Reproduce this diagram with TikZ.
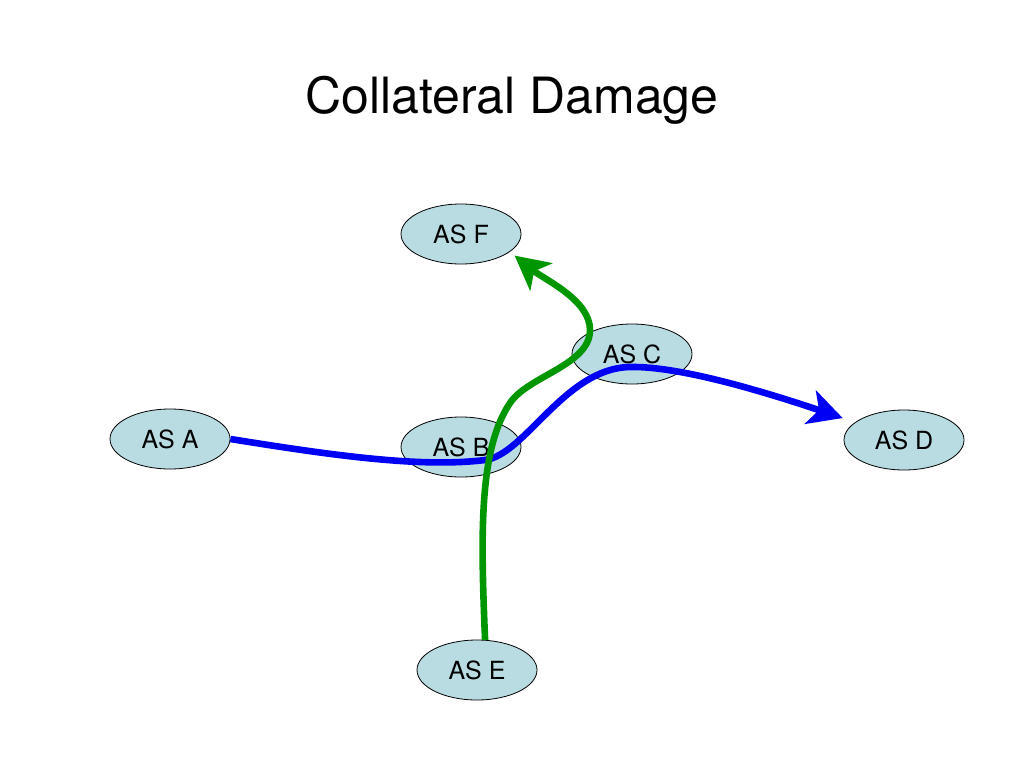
\documentclass[tikz,border=0pt]{standalone}
\usepackage{fontspec}
\setmainfont{TeX Gyre Heros}
\usetikzlibrary{shapes.geometric,arrows.meta}
\definecolor{asfill}{RGB}{185,220,226}
\definecolor{routeblue}{RGB}{0,0,245}
\definecolor{routegreen}{RGB}{0,150,0}
\begin{document}
\begin{tikzpicture}[x=1pt,y=-1pt,
        asnode/.style={ellipse,draw=black,line width=0.8pt,fill=asfill,minimum width=120pt,minimum height=60pt,inner sep=0pt,font=\fontsize{25}{30}\selectfont},
        route/.style={line width=6.6pt,-{Stealth[length=34pt,width=35pt,inset=9pt]}}]
        \useasboundingbox (0,0) rectangle (1024,768);
        \node[anchor=base,font=\fontsize{50}{60}\selectfont] (title) at (512,113) {Collateral Damage};
        \node[asnode] (asA) at (170,439) {AS A};
        \node[asnode] (asB) at (461,447) {AS B};
        \node[asnode] (asC) at (632,354) {AS C};
        \node[asnode] (asD) at (904,440) {AS D};
        \node[asnode] (asE) at (477,670) {AS E};
        \node[asnode] (asF) at (461,234) {AS F};
        \draw[route,routeblue,shorten >=13pt] (asA.east) .. controls (330,455) and (420,468) .. (485,460)
            .. controls (525,455) and (565,368) .. (630,367)
            .. controls (680,366) and (765,392) .. (asD.160);
        \draw[route,routegreen,shorten >=6pt] (asE.75) .. controls (481,540) and (478,450) .. (510,403)
            .. controls (528,376) and (590,365) .. (590,330)
            .. controls (590,300) and (545,280) .. (asF.-20);
    \end{tikzpicture}
\end{document}
